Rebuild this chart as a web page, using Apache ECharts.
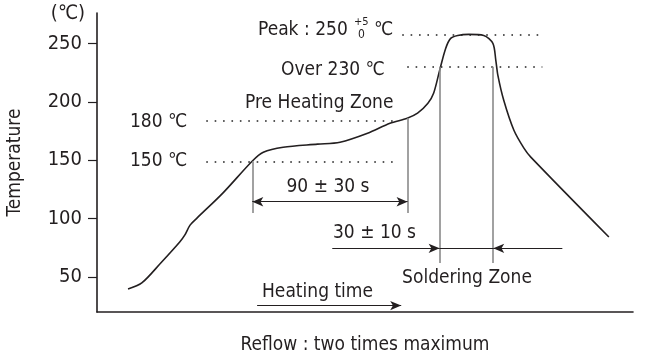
<!DOCTYPE html>
<html>
<head>
<meta charset="utf-8">
<script src="https://cdn.jsdelivr.net/npm/echarts@6/dist/echarts.min.js"></script>
<style>
  html, body { margin: 0; padding: 0; background: #fff; }
  #main { width: 651px; height: 354px; }
</style>
</head>
<body>
<div id="main"></div>
<script>
// reflow profile (time in s, temperature in ℃)
const timeSec = [18, 26, 37, 48, 51, 54, 58, 73, 90, 96.5, 108, 128, 141, 157, 170, 180, 186, 192, 195.3, 198.8, 202.3, 205.2, 209.3, 215.7, 224.4, 229.7, 231.4, 232.6, 236, 241.9, 247.7, 251.7, 297]
const tempC = [39.7, 44.9, 62, 80, 86, 94.4, 100.4, 121.8, 149.1, 156.8, 161.1, 163.7, 165.4, 173.1, 181.6, 185.9, 190.2, 198.7, 207.3, 226.9, 245.7, 254.3, 256.8, 257.7, 256.8, 250, 235.5, 222.6, 201.3, 175.6, 160.3, 152.6, 84.2]

const yTicks = [50, 100, 150, 200, 250]

// dotted reference levels: [temp, from s, to s]
const dottedLines = [
    [149, 63.4, 175],
    [184, 63.4, 175],
    [230, 180, 258.4],
    [257, 177.1, 256.1]
]
// grey zone markers: [time, top temp, bottom temp]
const zoneLines = [
    [90.1, 149, 104.7],
    [180.2, 186, 104.7],
    [198.8, 230, 62],
    [229.9, 230, 62]
]

const font = '"Liberation Sans Narrow", "DejaVu Sans Condensed", sans-serif'
const ink = '#231f20'

var myChart = echarts.init(document.getElementById('main'));

const markData = []
dottedLines.forEach(d => {
    markData.push([
        { coord: [d[1], d[0]], lineStyle: { type: [1.6, 6.8], width: 1.7, color: '#222' } },
        { coord: [d[2], d[0]] }
    ])
})
zoneLines.forEach(d => {
    markData.push([
        { coord: [d[0], d[1]], lineStyle: { type: 'solid', width: 1.6, color: '#8a8a8a' } },
        { coord: [d[0], d[2]] }
    ])
})
// 90 ± 30 s double arrow
markData.push([
    { coord: [90.1, 114.4], symbol: 'arrow', lineStyle: { type: 'solid', width: 1.2, color: ink } },
    { coord: [180.2, 114.4], symbol: 'arrow' }
])
// 30 ± 10 s arrows
markData.push([
    { coord: [136.5, 74.5], symbol: 'none', lineStyle: { type: 'solid', width: 1.2, color: ink } },
    { coord: [198.8, 74.5], symbol: 'arrow' }
])
markData.push([
    { coord: [198.8, 74.5], symbol: 'none', lineStyle: { type: 'solid', width: 1.2, color: ink } },
    { coord: [229.9, 74.5], symbol: 'none' }
])
markData.push([
    { coord: [270, 74.5], symbol: 'none', lineStyle: { type: 'solid', width: 1.2, color: ink } },
    { coord: [229.9, 74.5], symbol: 'arrow' }
])
// heating time arrow
markData.push([
    { coord: [92.9, 25.5], symbol: 'none', lineStyle: { type: 'solid', width: 1.2, color: ink } },
    { coord: [176.5, 25.5], symbol: 'arrow' }
])

function label(text, x, y, size, align) {
    return {
        type: 'text', x: x, y: y, z: 10,
        style: { text: text, fontSize: size || 19, fontFamily: font, fill: ink, align: align || 'left', verticalAlign: 'middle' }
    }
}

var option = {
    animation: false,
    grid: { left: 97, right: 18, top: 13, bottom: 42, outerBoundsMode: 'none', containLabel: false },
    xAxis: {
        type: 'value',
        min: 0,
        max: 311,
        axisLine: { lineStyle: { color: ink, width: 1.6 } },
        axisTick: { show: false },
        axisLabel: { show: false },
        splitLine: { show: false },
        name: 'Reflow : two times maximum',
        nameLocation: 'middle',
        nameGap: 24,
        nameTextStyle: { fontSize: 19, fontFamily: font, color: ink }
    },
    yAxis: {
        type: 'value',
        min: 20,
        max: 276,
        axisLine: { show: true, lineStyle: { color: ink, width: 1.6 } },
        axisTick: { show: true, length: 9, customValues: yTicks, lineStyle: { color: ink, width: 1.2 } },
        axisLabel: { customValues: yTicks, margin: 15, fontSize: 20, fontFamily: font, color: ink },
        splitLine: { show: false },
        name: 'Temperature',
        nameLocation: 'middle',
        nameGap: 72,
        nameTextStyle: { fontSize: 19, fontFamily: font, color: ink }
    },
    series: [
        {
            type: 'line',
            data: timeSec.map((t, i) => [t, tempC[i]]),
            smooth: 0.3,
            symbol: 'none',
            lineStyle: { color: ink, width: 1.6 },
            markLine: {
                silent: true,
                symbol: 'none',
                symbolSize: [7, 11],
                label: { show: false },
                data: markData
            }
        }
    ],
    graphic: [
        label('(℃)', 68, 14, 20, 'center'),
        label('Peak : 250', 258, 30),
        label('+5', 354, 22, 11),
        label('0', 358, 35, 12),
        label('℃', 374, 30),
        label('Over 230 ℃', 281, 70),
        label('Pre Heating Zone', 245, 103),
        label('180 ℃', 130, 122),
        label('150 ℃', 130, 161),
        label('90 ± 30 s', 328, 187, 19, 'center'),
        label('30 ± 10 s', 333, 233),
        label('Soldering Zone', 467, 278, 19, 'center'),
        label('Heating time', 262, 292)
    ]
};

myChart.setOption(option);
</script>
</body>
</html>
